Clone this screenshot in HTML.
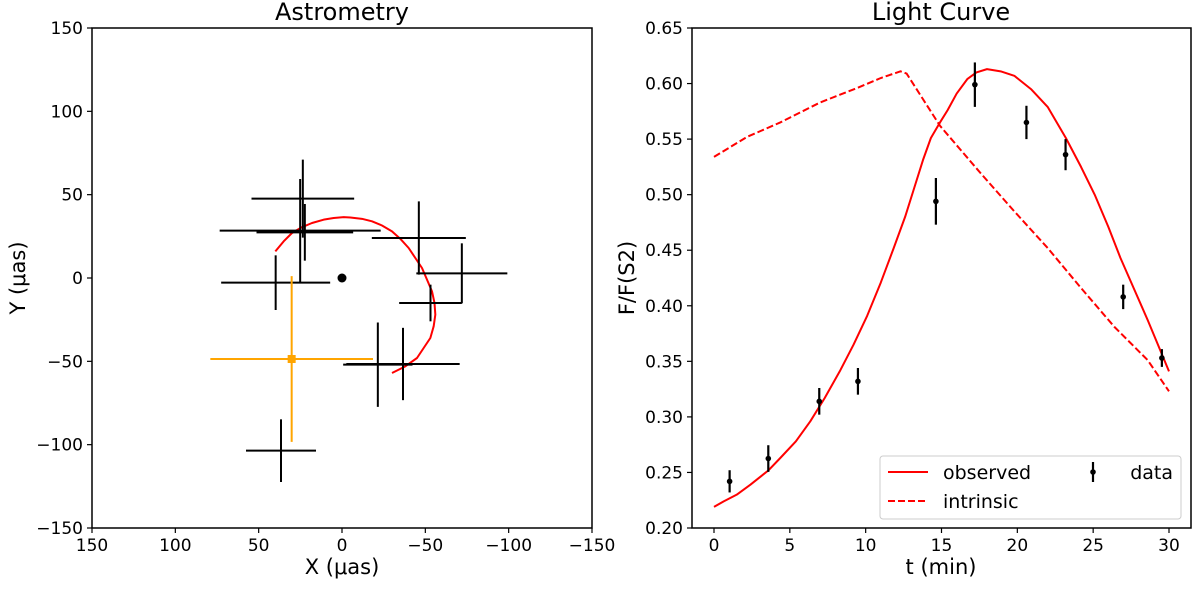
<!DOCTYPE html>
<html><head><meta charset="utf-8"><style>
body{margin:0;background:#fff}
svg{display:block;font-family:"DejaVu Sans","Liberation Sans",sans-serif}
</style></head><body>
<svg id="chart" width="1200" height="590"></svg>
<script>
// ---- Astrometry data ----
const astroX=[23.5,25.1,22.3,39.8,-46.1,-71.9,-53.1,-21.5,-36.6,36.6];
const astroY=[47.6,28.4,27.4,-2.8,24.0,2.8,-15.0,-52.0,-51.6,-103.6];
const astroXerr=[30.8,48.3,29.0,32.7,28.2,27.3,18.8,20.8,34.0,21.0];
const astroYerr=[23.4,31.0,17.0,16.4,22.0,18.0,11.0,25.3,21.7,18.8];
const refX=[30.2], refY=[-48.6], refXerr=[48.8], refYerr=[49.7];
const orbitX=[40,35,30,24,18,11,5,-1,-5,-12,-18,-24,-30,-35,-40,-44,-48,-51,-54,-55.5,-56,-55,-53,-49,-45,-38,-30];
const orbitY=[16,22,27,30.5,33,35,36,36.5,36.3,35.5,34,31.5,28,23.5,18,12,6,-1,-8,-15,-22,-29,-36,-42,-48,-53,-57];
const astroTicks=[150,100,50,0,-50,-100,-150];
// ---- Light curve data ----
const dataT=[1.03,3.58,6.94,9.49,14.63,17.2,20.6,23.18,26.98,29.53];
const dataF=[0.242,0.2625,0.314,0.332,0.494,0.599,0.565,0.536,0.408,0.353];
const dataErr=[0.010,0.012,0.012,0.012,0.021,0.020,0.015,0.014,0.011,0.008];
const obsT=[0,0.64,1.5,2.4,3.6,4.37,5.4,6.35,7.3,8.33,9.2,10.1,11.0,11.85,12.6,13.2,13.8,14.3,14.9,15.4,16.0,16.7,17.3,18.0,18.9,19.8,20.9,22.0,23.2,24.2,25.1,26.0,26.8,27.7,28.6,29.3,30.0];
const obsF=[0.219,0.224,0.230,0.239,0.252,0.263,0.278,0.296,0.317,0.342,0.365,0.391,0.421,0.452,0.480,0.506,0.532,0.551,0.565,0.576,0.591,0.604,0.610,0.613,0.611,0.607,0.595,0.579,0.551,0.525,0.500,0.471,0.443,0.415,0.387,0.364,0.341];
const intT=[0,2.18,4.37,7.0,9.44,11.0,12.3,12.7,14.9,17.6,19.8,22.0,24.2,26.4,28.6,30.0];
const intF=[0.534,0.552,0.565,0.583,0.596,0.605,0.611,0.609,0.562,0.519,0.485,0.452,0.416,0.381,0.351,0.323];
const tTicks=[0,5,10,15,20,25,30];
const fTicks=[0.20,0.25,0.30,0.35,0.40,0.45,0.50,0.55,0.60,0.65];

const svg=document.getElementById('chart');
const NS='http://www.w3.org/2000/svg';
function mk(tag,attrs,parent){const e=document.createElementNS(NS,tag);for(const k in attrs)e.setAttribute(k,attrs[k]);(parent||svg).appendChild(e);return e;}
function txt(s,attrs,parent){const e=mk('text',attrs,parent);e.textContent=s;return e;}
function fmtNeg(v){return v<0?'\u2212'+Math.abs(v):String(v);}

const L={x0:92,x1:592,y0:28,y1:528};
const ax=v=>L.x0+(150-v)/300*(L.x1-L.x0);
const ay=v=>L.y0+(150-v)/300*(L.y1-L.y0);
const R={x0:692,x1:1191,y0:28,y1:528};
const rx=t=>714+t*(1169-714)/30;
const ry=f=>R.y1-(f-0.20)/0.45*(R.y1-R.y0);

// Left panel
let g=mk('g',{});


let orbit=mk('polyline',{points:orbitX.map((x,i)=>ax(x)+','+ay(orbitY[i])).join(' '),fill:'none',stroke:'#ff0000','stroke-width':2,'stroke-linejoin':'round'},g);


for(let i=0;i<astroX.length;i++){
  const cg=mk('g',{stroke:'#000','stroke-width':2},g);
  
  
  mk('line',{x1:ax(astroX[i]-astroXerr[i]),x2:ax(astroX[i]+astroXerr[i]),y1:ay(astroY[i]),y2:ay(astroY[i])},cg);
  mk('line',{x1:ax(astroX[i]),x2:ax(astroX[i]),y1:ay(astroY[i]-astroYerr[i]),y2:ay(astroY[i]+astroYerr[i])},cg);
}
for(let i=0;i<refX.length;i++){
  const cg=mk('g',{stroke:'#ffa500','stroke-width':2},g);
  
  
  mk('line',{x1:ax(refX[i]-refXerr[i]),x2:ax(refX[i]+refXerr[i]),y1:ay(refY[i]),y2:ay(refY[i])},cg);
  mk('line',{x1:ax(refX[i]),x2:ax(refX[i]),y1:ay(refY[i]-refYerr[i]),y2:ay(refY[i]+refYerr[i])},cg);
  mk('rect',{x:ax(refX[i])-4,y:ay(refY[i])-4,width:8,height:8,fill:'#ffa500',stroke:'none'},cg);
}
let bh=mk('circle',{cx:ax(0),cy:ay(0),r:4.5,fill:'#000'},g);


mk('rect',{x:L.x0,y:L.y0,width:L.x1-L.x0,height:L.y1-L.y0,fill:'none',stroke:'#000','stroke-width':1.5},g);
astroTicks.forEach(v=>{
  mk('line',{x1:ax(v),x2:ax(v),y1:L.y1,y2:L.y1+5,stroke:'#000','stroke-width':1.2},g);
  const t=txt(fmtNeg(v),{x:ax(v),y:L.y1+23,'text-anchor':'middle','font-size':17},g);
  
  mk('line',{x1:L.x0-5,x2:L.x0,y1:ay(v),y2:ay(v),stroke:'#000','stroke-width':1.2},g);
  const t2=txt(fmtNeg(v),{x:L.x0-9,y:ay(v)+6,'text-anchor':'end','font-size':17},g);
  
});
let t=txt('Astrometry',{x:342,y:20,'text-anchor':'middle','font-size':24});

t=txt('X (\u03bcas)',{x:342,y:574,'text-anchor':'middle','font-size':21});

t=txt('Y (\u03bcas)',{x:25,y:278,'text-anchor':'middle','font-size':21,transform:'rotate(-90 25 278)'});


// Right panel
g=mk('g',{});


let obs=mk('polyline',{points:obsT.map((v,i)=>rx(v)+','+ry(obsF[i])).join(' '),fill:'none',stroke:'#ff0000','stroke-width':2,'stroke-linejoin':'round'},g);

let intr=mk('polyline',{points:intT.map((v,i)=>rx(v)+','+ry(intF[i])).join(' '),fill:'none',stroke:'#ff0000','stroke-width':2,'stroke-dasharray':'7,3'},g);

for(let i=0;i<dataT.length;i++){
  const cg=mk('g',{},g);
  
  
  mk('line',{x1:rx(dataT[i]),x2:rx(dataT[i]),y1:ry(dataF[i]-dataErr[i]),y2:ry(dataF[i]+dataErr[i]),stroke:'#000','stroke-width':2.2},cg);
  mk('circle',{cx:rx(dataT[i]),cy:ry(dataF[i]),r:2.8,fill:'#000'},cg);
}
mk('rect',{x:R.x0,y:R.y0,width:R.x1-R.x0,height:R.y1-R.y0,fill:'none',stroke:'#000','stroke-width':1.5},g);
tTicks.forEach(v=>{
  mk('line',{x1:rx(v),x2:rx(v),y1:R.y1,y2:R.y1+5,stroke:'#000','stroke-width':1.2},g);
  const e=txt(String(v),{x:rx(v),y:R.y1+23,'text-anchor':'middle','font-size':17},g);
  
});
fTicks.forEach(v=>{
  mk('line',{x1:R.x0-5,x2:R.x0,y1:ry(v),y2:ry(v),stroke:'#000','stroke-width':1.2},g);
  const e=txt(v.toFixed(2),{x:R.x0-9,y:ry(v)+6,'text-anchor':'end','font-size':17},g);
  
});
t=txt('Light Curve',{x:941,y:20,'text-anchor':'middle','font-size':24});

t=txt('t (min)',{x:941,y:574,'text-anchor':'middle','font-size':21});

t=txt('F/F(S2)',{x:634,y:278,'text-anchor':'middle','font-size':21,transform:'rotate(-90 634 278)'});


// Legend
const lg=mk('g',{},g);


mk('rect',{x:880,y:456,width:301,height:63,rx:3,fill:'#fff',stroke:'#ccc','stroke-width':1},lg);
mk('line',{x1:888,x2:928,y1:472,y2:472,stroke:'#ff0000','stroke-width':2},lg);
t=txt('observed',{x:943,y:479,'font-size':19},lg);

mk('line',{x1:888,x2:928,y1:501,y2:501,stroke:'#ff0000','stroke-width':2,'stroke-dasharray':'7,3'},lg);
t=txt('intrinsic',{x:943,y:508,'font-size':19},lg);

mk('line',{x1:1093,x2:1093,y1:462,y2:482,stroke:'#000','stroke-width':2.2},lg);
mk('circle',{cx:1093,cy:472,r:2.8,fill:'#000'},lg);
t=txt('data',{x:1173,y:479,'font-size':19,'text-anchor':'end'},lg);

</script>
</body></html>
